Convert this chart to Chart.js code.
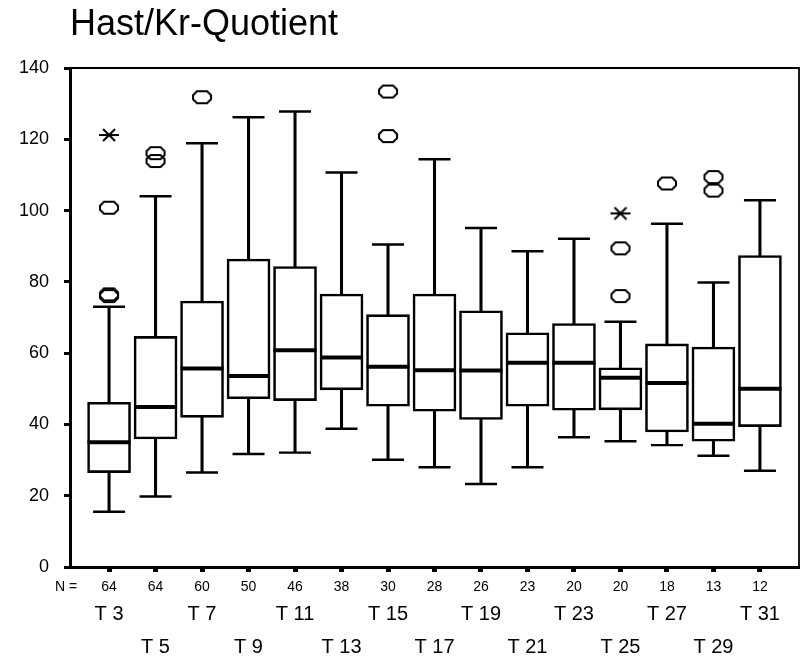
<!DOCTYPE html>
<html>
<head>
<meta charset="utf-8">
<title>Hast/Kr-Quotient</title>
<script src="https://cdn.jsdelivr.net/npm/chart.js@4.4.1/dist/chart.umd.min.js"></script>
<style>
  html, body { margin: 0; padding: 0; background: #fff; }
  #wrap { width: 805px; height: 658px; }
</style>
</head>
<body>
<div id="wrap"><canvas id="chart" width="805" height="658"></canvas></div>
<script>
// ── Data ──
const categories  = ['T 3', 'T 5', 'T 7', 'T 9', 'T 11', 'T 13', 'T 15', 'T 17', 'T 19', 'T 21', 'T 23', 'T 25', 'T 27', 'T 29', 'T 31'];
const counts      = [64, 64, 60, 50, 46, 38, 30, 28, 26, 23, 20, 20, 18, 13, 12];
const whiskerLow  = [15.5, 19.8, 26.5, 31.7, 32.1, 38.8, 30.1, 28.0, 23.3, 28.0, 36.4, 35.3, 34.2, 31.2, 27.0];
const quart1      = [26.5, 35.9, 42.0, 47.2, 46.7, 49.7, 45.1, 43.7, 41.4, 45.1, 44.0, 44.1, 37.9, 35.3, 39.4];
const medians     = [35.0, 44.9, 55.7, 53.6, 60.8, 58.8, 56.2, 55.2, 55.1, 57.3, 57.3, 53.1, 51.6, 40.2, 50.0];
const quart3      = [46.2, 64.7, 74.6, 86.4, 84.3, 76.6, 70.8, 76.6, 71.9, 65.7, 68.3, 55.9, 62.6, 61.7, 87.4];
const whiskerHigh = [73.0, 104.0, 118.9, 126.2, 127.8, 110.7, 90.5, 114.4, 95.1, 88.6, 92.1, 68.8, 96.3, 79.8, 102.9];

// outliers (o) and extremes (*)
const outlierCat  = ['T 3', 'T 3', 'T 3', 'T 5', 'T 5', 'T 7', 'T 15', 'T 15', 'T 25', 'T 25', 'T 27', 'T 29', 'T 29'];
const outlierVal  = [100.8, 76.5, 76.0, 116.1, 113.9, 131.8, 133.4, 120.9, 89.4, 76.0, 107.6, 109.4, 105.6];
const extremeCat  = ['T 3', 'T 25'];
const extremeVal  = [121.2, 99.2];

const yTicks = [0, 20, 40, 60, 80, 100, 120, 140];

const FONT = 'Liberation Sans, Arial, Helvetica, sans-serif';

// ── marker images ──
function makeOval() {
  const c = document.createElement('canvas');
  c.width = 22; c.height = 16;
  const g = c.getContext('2d');
  g.strokeStyle = '#000';
  g.lineWidth = 2;
  g.beginPath();
  g.moveTo(6, 2); g.lineTo(16, 2); g.lineTo(20, 6); g.lineTo(20, 10);
  g.lineTo(16, 14); g.lineTo(6, 14); g.lineTo(2, 10); g.lineTo(2, 6);
  g.closePath();
  g.stroke();
  return c;
}
function makeStar() {
  const c = document.createElement('canvas');
  c.width = 22; c.height = 16;
  const g = c.getContext('2d');
  g.strokeStyle = '#000';
  g.lineWidth = 2;
  g.beginPath();
  g.moveTo(1, 8); g.lineTo(21, 8);
  g.moveTo(5, 2); g.lineTo(17, 14);
  g.moveTo(5, 14); g.lineTo(17, 2);
  g.stroke();
  return c;
}

const idx = name => categories.indexOf(name);

// top + right frame, and the "N =" label
const framePlugin = {
  id: 'frame',
  afterDraw(chart) {
    const { ctx, chartArea: a, scales } = chart;
    ctx.save();
    ctx.strokeStyle = '#000';
    ctx.lineWidth = 1.8;
    ctx.beginPath();
    ctx.moveTo(a.left, a.top);
    ctx.lineTo(a.right, a.top);
    ctx.lineTo(a.right, a.bottom);
    ctx.stroke();
    ctx.fillStyle = '#000';
    ctx.font = '14px ' + FONT;
    ctx.textAlign = 'center';
    ctx.textBaseline = 'middle';
    const xs = scales.x;
    ctx.fillText('N =', a.left - 4, xs.top + 20);
    ctx.restore();
  }
};

const boxData     = categories.map((c, i) => ({ x: i, y: [quart1[i], quart3[i]] }));
const whiskerData = categories.map((c, i) => ({ x: i, y: [whiskerLow[i], whiskerHigh[i]] }));
const capData     = categories.map((c, i) => ({ x: i, y: whiskerLow[i] }))
  .concat(categories.map((c, i) => ({ x: i, y: whiskerHigh[i] })));
const medianData  = categories.map((c, i) => ({ x: i, y: medians[i] }));
const outlierData = outlierCat.map((c, i) => ({ x: idx(c), y: outlierVal[i] }));
const extremeData = extremeCat.map((c, i) => ({ x: idx(c), y: extremeVal[i] }));

const xRange = { min: -0.84, max: 14.84 };
const setCatTicks = s => { s.ticks = categories.map((c, i) => ({ value: i })); };
// keep the plot area fixed: no extra side padding for the label rows
const fitX = h => s => { s.height = h; s.paddingLeft = 0; s.paddingRight = 0; };

new Chart(document.getElementById('chart'), {
  type: 'bar',
  data: {
    datasets: [
      {
        label: 'whiskers', data: whiskerData, order: 4, grouped: false,
        barThickness: 2.4, backgroundColor: '#000', borderWidth: 0
      },
      {
        label: 'boxes', data: boxData, order: 3, grouped: false,
        barThickness: 43, backgroundColor: '#fff', borderColor: '#000',
        borderWidth: 2.6, borderSkipped: false
      },
      {
        type: 'line', label: 'caps', data: capData, order: 2, showLine: false,
        pointStyle: 'line', pointRadius: 16, pointBorderWidth: 2.4,
        pointBorderColor: '#000', pointBackgroundColor: '#000'
      },
      {
        type: 'line', label: 'median', data: medianData, order: 1, showLine: false,
        pointStyle: 'line', pointRadius: 21.5, pointBorderWidth: 4,
        pointBorderColor: '#000', pointBackgroundColor: '#000'
      },
      {
        type: 'line', label: 'outliers', data: outlierData, order: 0, showLine: false,
        pointStyle: makeOval(), pointRadius: 10
      },
      {
        type: 'line', label: 'extremes', data: extremeData, order: 0, showLine: false,
        pointStyle: makeStar(), pointRadius: 10
      }
    ]
  },
  options: {
    responsive: false,
    animation: false,
    events: [],
    layout: { autoPadding: false, padding: { left: 0, right: 6, top: 0, bottom: 0 } },
    plugins: {
      legend: { display: false },
      tooltip: { enabled: false },
      title: {
        display: true,
        text: 'Hast/Kr-Quotient',
        align: 'start',
        fullSize: false,
        color: '#000',
        font: { family: FONT, size: 36, weight: 'normal' },
        padding: { top: 3.5, bottom: 21.3 }
      }
    },
    scales: {
      x: {
        type: 'linear', position: 'bottom', weight: 0, offset: false,
        min: xRange.min, max: xRange.max,
        afterBuildTicks: setCatTicks,
        afterFit: fitX(27),
        grid: { offset: false, drawOnChartArea: false, drawTicks: true, tickLength: 5, tickWidth: 5, tickColor: '#000' },
        border: { display: true, width: 3, color: '#000' },
        ticks: {
          autoSkip: false, maxRotation: 0, padding: 7, color: '#000',
          font: { family: FONT, size: 14 },
          callback: (v, i) => String(counts[i])
        }
      },
      x2: {
        type: 'linear', position: 'bottom', weight: 1, offset: false,
        min: xRange.min, max: xRange.max,
        afterBuildTicks: setCatTicks,
        afterFit: fitX(64),
        grid: { offset: false, display: false, drawTicks: false },
        border: { display: false },
        ticks: {
          autoSkip: false, maxRotation: 0, padding: 3.5, color: '#000',
          font: { family: FONT, size: 20, lineHeight: '33px' },
          callback: (v, i) => (i % 2 === 0 ? [categories[i], ''] : ['', categories[i]])
        }
      },
      y: {
        type: 'linear', position: 'left',
        min: 0, max: 140,
        afterBuildTicks: s => { s.ticks = yTicks.map(v => ({ value: v })); },
        afterFit: s => { s.width = 70; },
        grid: { drawOnChartArea: false, drawTicks: true, tickLength: 6, tickWidth: 3, tickColor: '#000' },
        border: { display: true, width: 3, color: '#000' },
        ticks: {
          padding: 15, color: '#000',
          font: { family: FONT, size: 18 }
        }
      }
    }
  },
  plugins: [framePlugin]
});
</script>
</body>
</html>
